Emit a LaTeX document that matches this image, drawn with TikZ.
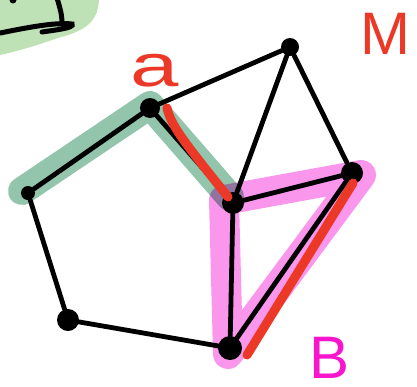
\documentclass[tikz,border=0pt]{standalone}
\usepackage{fontspec}
\setmainfont{Liberation Sans}
\usetikzlibrary{calc}
\definecolor{hlgreen}{RGB}{147,196,172}
\definecolor{blobgreen}{RGB}{190,226,182}
\definecolor{hlpink}{RGB}{250,150,235}
\definecolor{penred}{RGB}{236,56,38}
\definecolor{penmagenta}{RGB}{250,20,205}
\tikzset{
  vdot/.style  ={circle, fill=black, inner sep=0pt, minimum size=20pt},
  edge/.style  ={draw=black, line width=4.8pt, line cap=round},
  hlgr/.style  ={draw=hlgreen, line width=28pt, line cap=round, line join=round},
  hlpk/.style  ={draw=hlpink, line width=30pt, line cap=round, line join=round},
  redpen/.style={draw=penred, line width=9pt, line cap=round},
  tag/.style   ={font=\fontsize{60}{60}\selectfont, inner sep=0pt},
}

\begin{document}
\begin{tikzpicture}[x=1pt, y=-1pt]
  \useasboundingbox (0,0) rectangle (417,386);
  % corner of something else
  \fill[blobgreen] (0,0) -- (99,0) .. controls (98,25) and (80,32) .. (58,38)
        .. controls (35,46) and (15,52) .. (0,55) -- cycle;
  \draw[line width=5pt, line cap=round] (0,33) .. controls (25,28) and (55,22) .. (72,24)
        .. controls (75,28) and (55,30) .. (42,32);
  \draw[line width=5pt, line cap=round] (57,-2) .. controls (60,8) and (62,15) .. (62,22);
  \fill (13,0) circle (3.5pt);

  % vertices
  \node[vdot, minimum size=18pt] (vt) at (290,47) {};
  \node[vdot] (va) at (150,108) {};
  \node[vdot, minimum size=14pt] (vl) at (28,193) {};
  \node[vdot, minimum size=22pt] (vm) at (233,203) {};
  \node[vdot, minimum size=22pt] (vr) at (352,173) {};
  \node[vdot, minimum size=22pt] (vbl) at (68,320) {};
  \node[vdot, minimum size=24pt] (vb) at (230,348) {};

  % highlights
  \begin{scope}[blend mode=multiply]
    \draw[hlpk] ($(vm.center)+(-9,-3)$) -- ($(vr.center)+(9,2)$)
                -- ($(vb.center)+(-2,6)$) -- cycle;
    \draw[hlgr] ($(vl.center)+(-6,-2)$) -- ($(va.center)+(0,-3)$) -- ($(vm.center)+(-3,-6)$);
  \end{scope}

  % edges
  \draw[edge] (va) -- (vt);
  \draw[edge] (vt) -- (vm);
  \draw[edge] (vt) -- (vr);
  \draw[edge] (va) -- (vl);
  \draw[edge] (va) -- (vm);
  \draw[edge] (vl) -- (vbl);
  \draw[edge] (vbl) -- (vb);
  \draw[edge] (vm) -- (vb);
  \draw[edge] (vm) -- (vr);
  \draw[edge] (vr) -- (vb);

  % red strokes
  \draw[redpen] ($(va.center)+(17,0)$) .. controls ($(va.center)+(21,18)$)
                and ($(vm.center)+(-48,-60)$) .. ($(vm.center)+(-5,-6)$);
  \draw[redpen] ($(vr.center)+(1,10)$) -- ($(vb.center)+(17,7)$);

  % labels
  \node[tag, text=penred] (la) at (155,71) {\scalebox{1.45}[1]{a}};
  \node[tag, text=penred] (lm) at (385,34) {M};
  \node[tag, text=penmagenta, anchor=base] (lb) at (330,378) {B};
\end{tikzpicture}
\end{document}
